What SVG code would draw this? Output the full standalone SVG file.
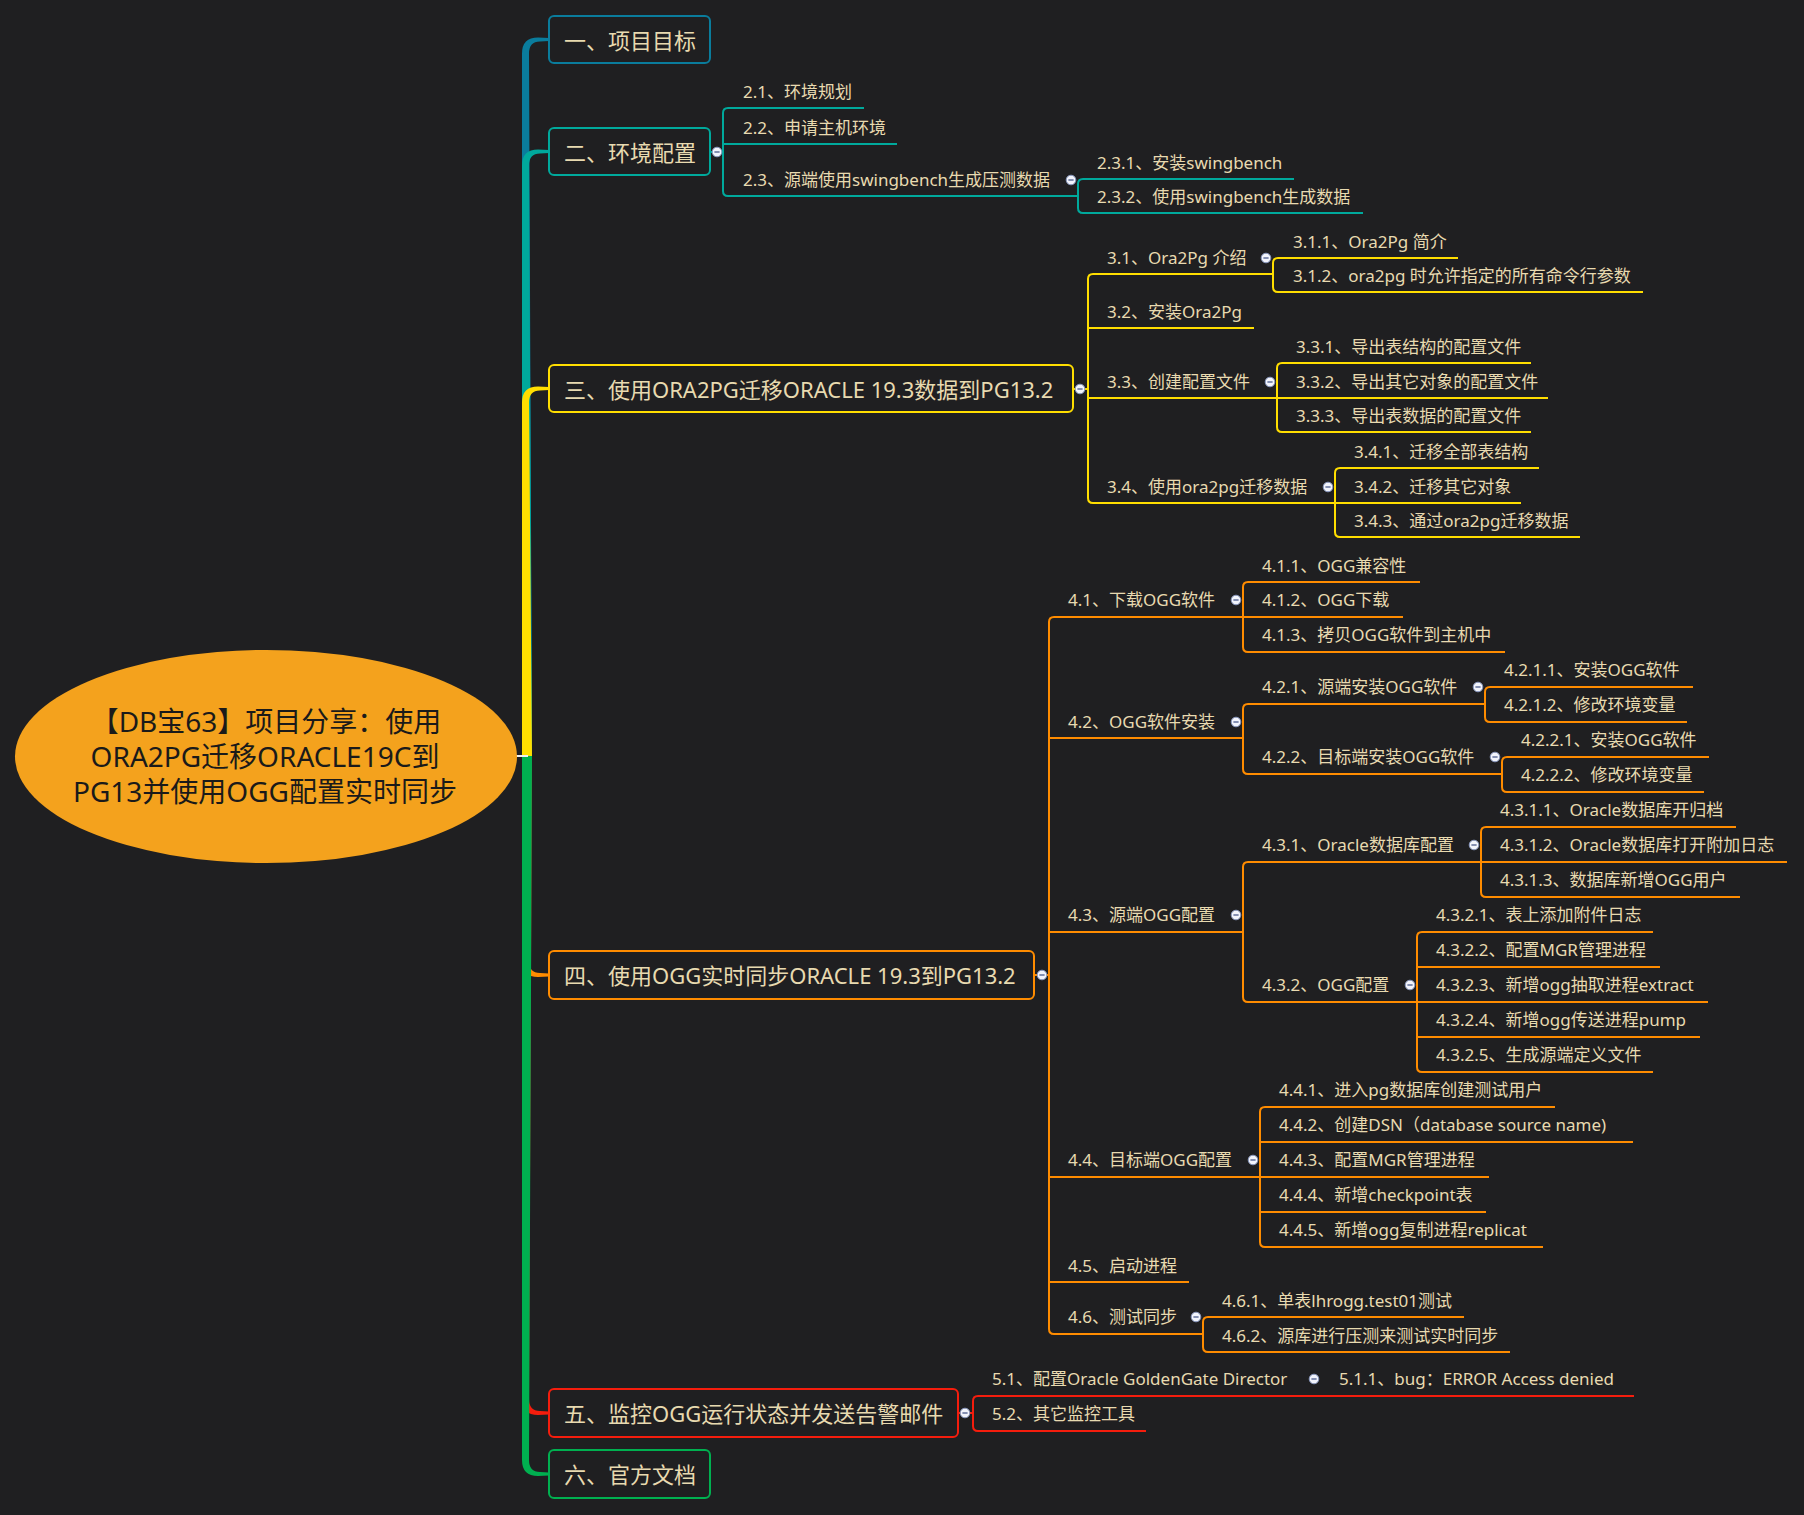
<svg xmlns="http://www.w3.org/2000/svg" xmlns:xlink="http://www.w3.org/1999/xlink" width="1804" height="1515" viewBox="0 0 1804 1515">
<style>
.t{font-family:'Noto Sans','Noto Sans CJK SC',sans-serif;fill:#e8dab0;font-size:17px;dominant-baseline:central}
.t1{font-size:22px}
.rt{font-family:'Noto Sans','Noto Sans CJK SC',sans-serif;fill:#1a1a1a;font-size:28px;text-anchor:middle;dominant-baseline:central}
.box{fill:#1f1f21;stroke-width:2}
.ln{fill:none;stroke-width:2}
.blue{stroke:#0a7c9c}.teal{stroke:#00a99c}.yel{stroke:#ffde00}.ora{stroke:#ff8c00}.red{stroke:#f51d0d}.grn{stroke:#00b050}
</style>
<defs>
<g id="col"><circle r="4.8" fill="#f2f4fc" stroke="#8796bd" stroke-width="1"/><line x1="-2.6" y1="0" x2="2.6" y2="0" stroke="#4a5a8c" stroke-width="1.3"/></g>
</defs>
<rect width="1804" height="1515" fill="#1f1f21"/>

<g id="connectors">
  <path fill="#0a7c9c" d="M522,756 L522,53.5 Q522,37.5 538,37.5 L549,38 L549,41 L540,41.5 Q529,41.5 529,53.5 L532,756 Z"/>
  <path fill="#00a99c" d="M522,756 L522,165.5 Q522,149.5 538,149.5 L549,150 L549,153 L540,153.5 Q529,153.5 529,165.5 L532,756 Z"/>
  <path fill="#ffde00" d="M522,756 L522,402.5 Q522,386.5 538,386.5 L549,387 L549,390 L540,390.5 Q529,390.5 529,402.5 L532,756 Z"/>
  <path fill="#ff8c00" d="M522,756 L522,961 Q522,977 538,977 L549,976.5 L549,973.5 L540,973 Q529,973 529,961 L532,756 Z"/>
  <path fill="#f51d0d" d="M522,756 L522,1399 Q522,1415 538,1415 L549,1414.5 L549,1411.5 L540,1411 Q529,1411 529,1399 L532,756 Z"/>
  <path fill="#00b050" d="M522,756 L522,1460 Q522,1476 538,1476 L549,1475.5 L549,1472.5 L540,1472 Q529,1472 529,1460 L532,756 Z"/>
  <rect x="516" y="755" width="12" height="2" fill="#f2f2f2"/>

  <g class="ln teal">
    <path d="M710,152 H723"/>
    <path d="M728,108 Q723,108 723,113 V191 Q723,196 728,196"/>
    <path d="M728,108 H864"/>
    <path d="M723,144 H897"/>
    <path d="M728,196 H1078"/>
    <path d="M1083,179 Q1078,179 1078,184 V208 Q1078,213 1083,213"/>
    <path d="M1083,179 H1294"/>
    <path d="M1083,213 H1363"/>
  </g>

  <g class="ln yel">
    <path d="M1073,389 H1088"/>
    <path d="M1093,274 Q1088,274 1088,279 V498 Q1088,503 1093,503"/>
    <path d="M1093,274 H1273"/>
    <path d="M1278,258 Q1273,258 1273,263 V287 Q1273,292 1278,292"/>
    <path d="M1278,258 H1458"/>
    <path d="M1278,292 H1643"/>
    <path d="M1088,328 H1254"/>
    <path d="M1088,398 H1548"/>
    <path d="M1282,363 Q1277,363 1277,368 V427 Q1277,432 1282,432"/>
    <path d="M1282,363 H1531"/>
    <path d="M1282,432 H1531"/>
    <path d="M1093,503 H1521"/>
    <path d="M1340,468 Q1335,468 1335,473 V532 Q1335,537 1340,537"/>
    <path d="M1340,468 H1539"/>
    <path d="M1340,537 H1580"/>
  </g>

  <g class="ln ora">
    <path d="M1034,975 H1049"/>
    <path d="M1054,617 Q1049,617 1049,622 V1329 Q1049,1334 1054,1334"/>
    <path d="M1054,617 H1403"/>
    <path d="M1248,582 Q1243,582 1243,587 V647 Q1243,652 1248,652"/>
    <path d="M1248,582 H1420"/>
    <path d="M1248,652 H1505"/>
    <path d="M1049,738 H1243"/>
    <path d="M1248,704 Q1243,704 1243,709 V769 Q1243,774 1248,774"/>
    <path d="M1248,704 H1485"/>
    <path d="M1490,687 Q1485,687 1485,692 V717 Q1485,722 1490,722"/>
    <path d="M1490,687 H1693"/>
    <path d="M1490,722 H1687"/>
    <path d="M1248,774 H1502"/>
    <path d="M1507,757 Q1502,757 1502,762 V787 Q1502,792 1507,792"/>
    <path d="M1507,757 H1709"/>
    <path d="M1507,792 H1704"/>
    <path d="M1049,932 H1243"/>
    <path d="M1248,862 Q1243,862 1243,867 V997 Q1243,1002 1248,1002"/>
    <path d="M1248,862 H1481"/>
    <path d="M1486,827 Q1481,827 1481,832 V892 Q1481,897 1486,897"/>
    <path d="M1486,827 H1736"/>
    <path d="M1481,862 H1787"/>
    <path d="M1486,897 H1740"/>
    <path d="M1248,1002 H1417"/>
    <path d="M1422,932 Q1417,932 1417,937 V1067 Q1417,1072 1422,1072"/>
    <path d="M1422,932 H1653"/>
    <path d="M1417,967 H1660"/>
    <path d="M1417,1002 H1708"/>
    <path d="M1417,1037 H1700"/>
    <path d="M1422,1072 H1653"/>
    <path d="M1049,1177 H1489"/>
    <path d="M1265,1107 Q1260,1107 1260,1112 V1242 Q1260,1247 1265,1247"/>
    <path d="M1265,1107 H1555"/>
    <path d="M1260,1142 H1633"/>
    <path d="M1260,1212 H1486"/>
    <path d="M1265,1247 H1543"/>
    <path d="M1049,1282 H1189"/>
    <path d="M1054,1334 H1203"/>
    <path d="M1208,1317 Q1203,1317 1203,1322 V1347 Q1203,1352 1208,1352"/>
    <path d="M1208,1317 H1464"/>
    <path d="M1208,1352 H1510"/>
  </g>

  <g class="ln red">
    <path d="M958,1413 H973"/>
    <path d="M978,1396 Q973,1396 973,1401 V1426 Q973,1431 978,1431"/>
    <path d="M978,1396 H1634"/>
    <path d="M978,1431 H1146"/>
  </g>
</g>

<g id="root">
  <ellipse cx="266" cy="756.5" rx="251" ry="106.5" fill="#f4a21d"/>
  <text class="rt" x="266" y="721">【DB宝63】项目分享：使用</text>
  <text class="rt" x="265" y="756">ORA2PG迁移ORACLE19C到</text>
  <text class="rt" x="265" y="791">PG13并使用OGG配置实时同步</text>
</g>

<g id="n1">
  <rect class="box blue" x="549" y="16" width="161" height="47" rx="5"/>
  <text class="t t1" x="564" y="40">一、项目目标</text>
</g>

<g id="n2">
  <rect class="box teal" x="549" y="128" width="161" height="47" rx="5"/>
  <text class="t t1" x="564" y="152">二、环境配置</text>
  <use href="#col" x="717" y="152"/>
</g>
<g id="n2_1"><text class="t" x="743" y="91">2.1、环境规划</text></g>
<g id="n2_2"><text class="t" x="743" y="127">2.2、申请主机环境</text></g>
<g id="n2_3"><text class="t" x="743" y="179">2.3、源端使用swingbench生成压测数据</text><use href="#col" x="1071" y="180"/></g>
<g id="n2_3_1"><text class="t" x="1097" y="162">2.3.1、安装swingbench</text></g>
<g id="n2_3_2"><text class="t" x="1097" y="196">2.3.2、使用swingbench生成数据</text></g>

<g id="n3">
  <rect class="box yel" x="549" y="365" width="524" height="47" rx="5"/>
  <text class="t t1" x="564" y="389">三、使用ORA2PG迁移ORACLE 19.3数据到PG13.2</text>
  <use href="#col" x="1080" y="389"/>
</g>
<g id="n3_1"><text class="t" x="1107" y="257">3.1、Ora2Pg 介绍</text><use href="#col" x="1266" y="258"/></g>
<g id="n3_1_1"><text class="t" x="1293" y="241">3.1.1、Ora2Pg 简介</text></g>
<g id="n3_1_2"><text class="t" x="1293" y="275">3.1.2、ora2pg 时允许指定的所有命令行参数</text></g>
<g id="n3_2"><text class="t" x="1107" y="311">3.2、安装Ora2Pg</text></g>
<g id="n3_3"><text class="t" x="1107" y="381">3.3、创建配置文件</text><use href="#col" x="1270" y="382"/></g>
<g id="n3_3_1"><text class="t" x="1296" y="346">3.3.1、导出表结构的配置文件</text></g>
<g id="n3_3_2"><text class="t" x="1296" y="381">3.3.2、导出其它对象的配置文件</text></g>
<g id="n3_3_3"><text class="t" x="1296" y="415">3.3.3、导出表数据的配置文件</text></g>
<g id="n3_4"><text class="t" x="1107" y="486">3.4、使用ora2pg迁移数据</text><use href="#col" x="1328" y="487"/></g>
<g id="n3_4_1"><text class="t" x="1354" y="451">3.4.1、迁移全部表结构</text></g>
<g id="n3_4_2"><text class="t" x="1354" y="486">3.4.2、迁移其它对象</text></g>
<g id="n3_4_3"><text class="t" x="1354" y="520">3.4.3、通过ora2pg迁移数据</text></g>

<g id="n4">
  <rect class="box ora" x="549" y="951" width="485" height="48" rx="5"/>
  <text class="t t1" x="564" y="975">四、使用OGG实时同步ORACLE 19.3到PG13.2</text>
  <use href="#col" x="1042" y="975"/>
</g>
<g id="n4_1"><text class="t" x="1068" y="599">4.1、下载OGG软件</text><use href="#col" x="1236" y="600"/></g>
<g id="n4_1_1"><text class="t" x="1262" y="565">4.1.1、OGG兼容性</text></g>
<g id="n4_1_2"><text class="t" x="1262" y="599">4.1.2、OGG下载</text></g>
<g id="n4_1_3"><text class="t" x="1262" y="634">4.1.3、拷贝OGG软件到主机中</text></g>
<g id="n4_2"><text class="t" x="1068" y="721">4.2、OGG软件安装</text><use href="#col" x="1236" y="722"/></g>
<g id="n4_2_1"><text class="t" x="1262" y="686">4.2.1、源端安装OGG软件</text><use href="#col" x="1478" y="687"/></g>
<g id="n4_2_1_1"><text class="t" x="1504" y="669">4.2.1.1、安装OGG软件</text></g>
<g id="n4_2_1_2"><text class="t" x="1504" y="704">4.2.1.2、修改环境变量</text></g>
<g id="n4_2_2"><text class="t" x="1262" y="756">4.2.2、目标端安装OGG软件</text><use href="#col" x="1495" y="757"/></g>
<g id="n4_2_2_1"><text class="t" x="1521" y="739">4.2.2.1、安装OGG软件</text></g>
<g id="n4_2_2_2"><text class="t" x="1521" y="774">4.2.2.2、修改环境变量</text></g>
<g id="n4_3"><text class="t" x="1068" y="914">4.3、源端OGG配置</text><use href="#col" x="1236" y="915"/></g>
<g id="n4_3_1"><text class="t" x="1262" y="844">4.3.1、Oracle数据库配置</text><use href="#col" x="1474" y="845"/></g>
<g id="n4_3_1_1"><text class="t" x="1500" y="809">4.3.1.1、Oracle数据库开归档</text></g>
<g id="n4_3_1_2"><text class="t" x="1500" y="844">4.3.1.2、Oracle数据库打开附加日志</text></g>
<g id="n4_3_1_3"><text class="t" x="1500" y="879">4.3.1.3、数据库新增OGG用户</text></g>
<g id="n4_3_2"><text class="t" x="1262" y="984">4.3.2、OGG配置</text><use href="#col" x="1410" y="985"/></g>
<g id="n4_3_2_1"><text class="t" x="1436" y="914">4.3.2.1、表上添加附件日志</text></g>
<g id="n4_3_2_2"><text class="t" x="1436" y="949">4.3.2.2、配置MGR管理进程</text></g>
<g id="n4_3_2_3"><text class="t" x="1436" y="984">4.3.2.3、新增ogg抽取进程extract</text></g>
<g id="n4_3_2_4"><text class="t" x="1436" y="1019">4.3.2.4、新增ogg传送进程pump</text></g>
<g id="n4_3_2_5"><text class="t" x="1436" y="1054">4.3.2.5、生成源端定义文件</text></g>
<g id="n4_4"><text class="t" x="1068" y="1159">4.4、目标端OGG配置</text><use href="#col" x="1253" y="1160"/></g>
<g id="n4_4_1"><text class="t" x="1279" y="1089">4.4.1、进入pg数据库创建测试用户</text></g>
<g id="n4_4_2"><text class="t" x="1279" y="1124">4.4.2、创建DSN（database source name)</text></g>
<g id="n4_4_3"><text class="t" x="1279" y="1159">4.4.3、配置MGR管理进程</text></g>
<g id="n4_4_4"><text class="t" x="1279" y="1194">4.4.4、新增checkpoint表</text></g>
<g id="n4_4_5"><text class="t" x="1279" y="1229">4.4.5、新增ogg复制进程replicat</text></g>
<g id="n4_5"><text class="t" x="1068" y="1265">4.5、启动进程</text></g>
<g id="n4_6"><text class="t" x="1068" y="1316">4.6、测试同步</text><use href="#col" x="1196" y="1317"/></g>
<g id="n4_6_1"><text class="t" x="1222" y="1300">4.6.1、单表lhrogg.test01测试</text></g>
<g id="n4_6_2"><text class="t" x="1222" y="1335">4.6.2、源库进行压测来测试实时同步</text></g>

<g id="n5">
  <rect class="box red" x="549" y="1389" width="409" height="48" rx="5"/>
  <text class="t t1" x="564" y="1413">五、监控OGG运行状态并发送告警邮件</text>
  <use href="#col" x="965" y="1413"/>
</g>
<g id="n5_1"><text class="t" x="992" y="1378">5.1、配置Oracle GoldenGate Director</text><use href="#col" x="1314" y="1379"/></g>
<g id="n5_1_1"><text class="t" x="1339" y="1378">5.1.1、bug：ERROR Access denied</text></g>
<g id="n5_2"><text class="t" x="992" y="1413">5.2、其它监控工具</text></g>

<g id="n6">
  <rect class="box grn" x="549" y="1450" width="161" height="48" rx="5"/>
  <text class="t t1" x="564" y="1474">六、官方文档</text>
</g>
</svg>
